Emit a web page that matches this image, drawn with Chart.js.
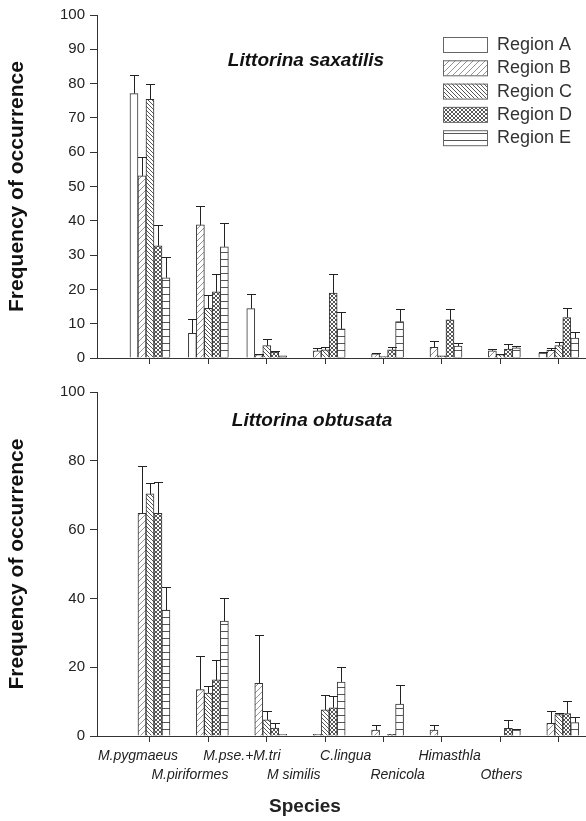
<!DOCTYPE html>
<html>
<head>
<meta charset="utf-8">
<script src="https://cdn.jsdelivr.net/npm/chart.js@4.4.1/dist/chart.umd.min.js"></script>
<style>
  body { margin: 0; background: #fff; }
  .box { position: absolute; left: 0; width: 586px; }
</style>
</head>
<body>
<div class="box" style="top:0;height:372px"><canvas id="saxatilis"></canvas></div>
<div class="box" style="top:372px;height:449px"><canvas id="obtusata"></canvas></div>
<script>
// categories and regions
const categories = ['M.pygmaeus', 'M.piriformes', 'M.pse.+M.tri', 'M similis', 'C.lingua', 'Renicola', 'Himasthla', 'Others'];
const regions = ['Region A', 'Region B', 'Region C', 'Region D', 'Region E'];

// Littorina saxatilis - mean values
const saxA = [77.1, 7.2, 14.4, 0, 0, 0, 0, 1.4];
const saxB = [53.1, 38.8, 1.0, 2.1, 1.2, 3.1, 2.1, 2.2];
const saxC = [75.4, 14.5, 3.6, 2.4, 0.4, 0.6, 1.0, 3.6];
const saxD = [32.7, 19.3, 1.7, 18.9, 2.4, 11.1, 2.6, 11.8];
const saxE = [23.4, 32.4, 0.6, 8.5, 10.6, 3.5, 3.0, 5.8];
// upper end of error bars
const saxErrA = [82.5, 11.4, 18.7, 0, 0, 0, 0, 1.8];
const saxErrB = [58.7, 44.4, 1.3, 2.9, 1.4, 5.0, 2.7, 3.0];
const saxErrC = [79.9, 18.4, 5.5, 3.2, 0, 0, 1.3, 4.8];
const saxErrD = [38.8, 24.5, 2.0, 24.5, 3.1, 14.4, 4.2, 14.7];
const saxErrE = [29.4, 39.3, 0, 13.5, 14.3, 4.5, 3.6, 7.5];

// Littorina obtusata - mean values
const obtA = [0, 0, 0, 0, 0, 0, 0, 0];
const obtB = [64.7, 13.5, 15.3, 0.5, 1.7, 1.7, 0, 3.7];
const obtC = [70.4, 12.5, 4.7, 7.6, 0, 0, 0, 6.2];
const obtD = [64.7, 16.3, 2.3, 8.2, 0.5, 0, 2.2, 6.5];
const obtE = [36.6, 33.4, 0.5, 15.7, 9.3, 0, 1.7, 3.9];
const obtErrA = [0, 0, 0, 0, 0, 0, 0, 0];
const obtErrB = [78.5, 23.3, 29.4, 0, 3.2, 3.2, 0, 7.3];
const obtErrC = [73.5, 14.5, 7.4, 11.8, 0, 0, 0, 6.8];
const obtErrD = [73.7, 22.0, 3.8, 11.5, 0, 0, 4.6, 10.3];
const obtErrE = [43.2, 40.2, 0, 20.2, 14.7, 0, 2.0, 5.6];

Chart.defaults.font.family = "'Liberation Sans', Arial, sans-serif";
Chart.defaults.color = '#222';

// hatch fills
function hatch(kind) {
  const c = document.createElement('canvas');
  const s = kind == 'B' ? 6 : (kind == 'E' ? 7 : 4);
  c.width = s; c.height = s;
  const g = c.getContext('2d');
  g.fillStyle = '#fff';
  g.fillRect(0, 0, s, s);
  if (kind == 'A') return g.createPattern(c, 'repeat');
  g.lineWidth = 0.9;
  if (kind == 'B' || kind == 'D') {
    g.strokeStyle = kind == 'B' ? '#888' : '#444';
    g.beginPath();
    g.moveTo(-1, s + 1); g.lineTo(s + 1, -1);
    g.moveTo(-1, 1); g.lineTo(1, -1);
    g.moveTo(s - 1, s + 1); g.lineTo(s + 1, s - 1);
    g.stroke();
  }
  if (kind == 'C' || kind == 'D') {
    g.strokeStyle = '#444';
    g.beginPath();
    g.moveTo(-1, -1); g.lineTo(s + 1, s + 1);
    g.moveTo(s - 1, -1); g.lineTo(s + 1, 1);
    g.moveTo(-1, s - 1); g.lineTo(1, s + 1);
    g.stroke();
  }
  if (kind == 'E') {
    g.fillStyle = '#555';
    g.fillRect(0, 0, s, 1);
  }
  return g.createPattern(c, 'repeat');
}
const fills = ['A', 'B', 'C', 'D', 'E'].map(hatch);

// error bars (upper whisker only)
const errorBars = {
  id: 'errorBars',
  afterDatasetsDraw(chart) {
    const ctx = chart.ctx;
    const ys = chart.scales.y;
    ctx.save();
    ctx.strokeStyle = '#222';
    ctx.lineWidth = 1;
    chart.data.datasets.forEach((ds, i) => {
      chart.getDatasetMeta(i).data.forEach((bar, j) => {
        const up = ds.errUp[j];
        if (!(up > ds.data[j].y)) return;
        const yt = Math.round(ys.getPixelForValue(up)) + 0.5;
        const x = Math.round(bar.x) + 0.5;
        ctx.beginPath();
        ctx.moveTo(x, bar.y);
        ctx.lineTo(x, yt);
        ctx.moveTo(x - 4.5, yt);
        ctx.lineTo(x + 4.5, yt);
        ctx.stroke();
      });
    });
    ctx.restore();
  }
};

// species name inside the plot
const speciesTitle = {
  id: 'speciesTitle',
  afterDraw(chart, args, opts) {
    const ctx = chart.ctx;
    ctx.save();
    ctx.font = "italic bold 19px 'Liberation Sans', Arial, sans-serif";
    ctx.fillStyle = '#111';
    ctx.textAlign = 'center';
    ctx.textBaseline = 'middle';
    ctx.fillText(opts.text, opts.x, opts.y);
    ctx.restore();
  }
};

// legend with hatch swatches
const boxLegend = {
  id: 'boxLegend',
  afterDraw(chart, args, opts) {
    if (!opts.display) return;
    const ctx = chart.ctx;
    ctx.save();
    ctx.font = "18px 'Liberation Sans', Arial, sans-serif";
    ctx.textBaseline = 'middle';
    chart.data.datasets.forEach((ds, i) => {
      const y = opts.y + i * 23.3;
      ctx.fillStyle = ds.backgroundColor;
      ctx.fillRect(opts.x, y, 44, 15);
      ctx.strokeStyle = '#666';
      ctx.lineWidth = 1;
      ctx.strokeRect(opts.x + 0.5, y + 0.5, 44, 15);
      ctx.fillStyle = '#333';
      ctx.fillText(ds.label, opts.x + 54, y + 8);
    });
    ctx.restore();
  }
};

// staggered category names and axis title under the lower plot
const speciesAxis = {
  id: 'speciesAxis',
  afterDraw(chart, args, opts) {
    if (!opts.display) return;
    const ctx = chart.ctx;
    const xs = chart.scales.x;
    const base = chart.chartArea.bottom;
    ctx.save();
    ctx.fillStyle = '#222';
    ctx.textAlign = 'center';
    ctx.textBaseline = 'middle';
    ctx.font = "italic 14px 'Liberation Sans', Arial, sans-serif";
    categories.forEach((c, i) => {
      const x = xs.getPixelForValue(i) - 12 - 6.47 * i;
      const y = base + (i % 2 == 0 ? 20 : 39);
      ctx.fillText(c, x, y);
    });
    ctx.font = "bold 19px 'Liberation Sans', Arial, sans-serif";
    ctx.fillText('Species', 305, base + 71);
    ctx.restore();
  }
};

function makeChart(id, series, errs, opts) {
  return new Chart(document.getElementById(id), {
    type: 'bar',
    data: {
      datasets: regions.map((r, k) => ({
        label: r,
        data: series[k].map((v, i) => ({ x: i, y: v })),
        errUp: errs[k],
        backgroundColor: fills[k],
        borderColor: '#333',
        borderWidth: 1,
        barThickness: 8
      }))
    },
    options: {
      responsive: true,
      maintainAspectRatio: false,
      animation: false,
      devicePixelRatio: 1,
      events: [],
      layout: { padding: { top: opts.top, left: 0, right: 0, bottom: 0 } },
      scales: {
        x: {
          type: 'linear',
          offset: false,
          min: -0.907,
          max: 7.466,
          afterBuildTicks: s => { s.ticks = categories.map((c, i) => ({ value: i })); },
          ticks: { display: false },
          grid: { offset: false, drawOnChartArea: false, tickLength: 6, color: '#333' },
          border: { color: '#333' },
          afterFit: s => { s.height = opts.bottom; }
        },
        y: {
          min: 0,
          max: 100,
          ticks: { stepSize: opts.step, font: { size: 15 }, padding: 5, color: '#222' },
          grid: { drawOnChartArea: false, tickLength: 7, color: '#333' },
          border: { color: '#333' },
          title: {
            display: true,
            text: 'Frequency of occurrence',
            font: { size: 21, weight: 'bold' },
            color: '#111',
            padding: { top: 5, bottom: 0 }
          },
          afterFit: s => { s.width = 97; }
        }
      },
      plugins: {
        legend: { display: false },
        tooltip: { enabled: false },
        speciesTitle: opts.title,
        boxLegend: { display: opts.legend, x: 443, y: 37 },
        speciesAxis: { display: opts.axis }
      }
    },
    plugins: [errorBars, speciesTitle, boxLegend, speciesAxis]
  });
}

makeChart('saxatilis',
  [saxA, saxB, saxC, saxD, saxE],
  [saxErrA, saxErrB, saxErrC, saxErrD, saxErrE],
  { top: 15, bottom: 12, step: 10, legend: true, axis: false,
    title: { text: 'Littorina saxatilis', x: 306, y: 61 } });

makeChart('obtusata',
  [obtA, obtB, obtC, obtD, obtE],
  [obtErrA, obtErrB, obtErrC, obtErrD, obtErrE],
  { top: 20, bottom: 85, step: 20, legend: false, axis: true,
    title: { text: 'Littorina obtusata', x: 312, y: 49 } });
</script>
</body>
</html>
